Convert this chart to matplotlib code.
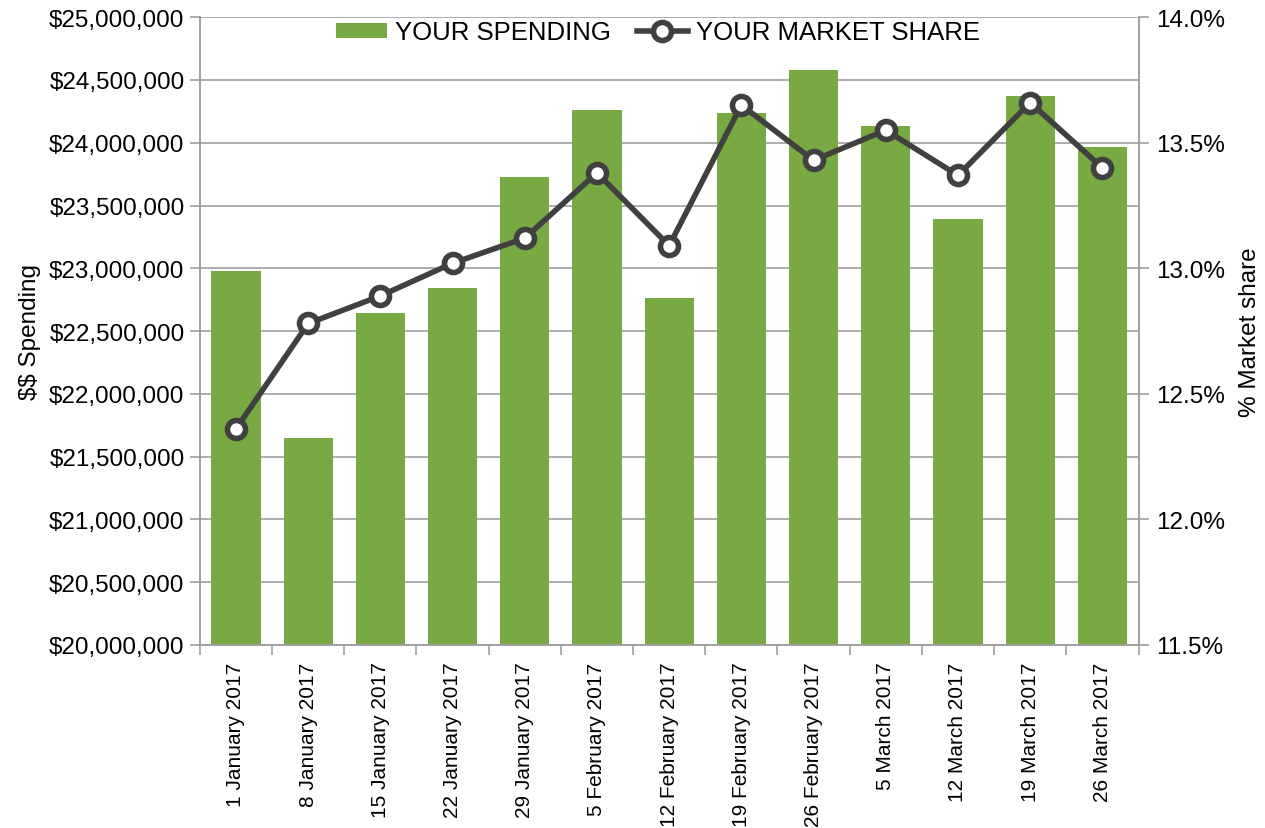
import numpy as np
import matplotlib.pyplot as plt
from matplotlib.ticker import FuncFormatter, FixedLocator

plt.rcParams['font.family'] = ['Liberation Sans', 'DejaVu Sans']
plt.rcParams['text.parse_math'] = False

weeks = ['1 January 2017', '8 January 2017', '15 January 2017', '22 January 2017',
         '29 January 2017', '5 February 2017', '12 February 2017', '19 February 2017',
         '26 February 2017', '5 March 2017', '12 March 2017', '19 March 2017',
         '26 March 2017']
spending = [22980000, 21650000, 22640000, 22840000, 23730000, 24260000, 22760000,
            24240000, 24580000, 24130000, 23390000, 24370000, 23970000]
market_share = [12.36, 12.78, 12.89, 13.02, 13.12, 13.38, 13.09,
                13.65, 13.43, 13.55, 13.37, 13.66, 13.40]

green = '#78a942'
dark = '#404040'
grid_col = '#a0a0a0'

fig = plt.figure(figsize=(12.65, 8.29), dpi=100)
ax = fig.add_axes([0.158, 0.221, 0.742, 0.757])
ax2 = ax.twinx()

x = np.arange(len(weeks))
bars = ax.bar(x, spending, width=0.68, color=green, zorder=2, label='YOUR SPENDING')
ax.set_ylim(20000000, 25000000)
ax.set_yticks(np.arange(20000000, 25000001, 500000))
ax.yaxis.set_major_formatter(FuncFormatter(lambda v, p: '${:,.0f}'.format(v)))
ax.grid(axis='y', color=grid_col, linewidth=1.2, zorder=0)
ax.set_axisbelow(True)
ax.set_xlim(-0.5, len(weeks) - 0.5)
ax.set_xticks(x)
ax.set_xticklabels(weeks, rotation=90)
ax.xaxis.set_minor_locator(FixedLocator(np.arange(-0.5, len(weeks), 1)))
ax.tick_params(axis='x', which='major', length=0, labelsize=15, pad=12)
ax.tick_params(axis='x', which='minor', length=7, color=grid_col, width=1.2)
ax.tick_params(axis='y', labelsize=17.5, length=7, color=grid_col, width=1.2, pad=4)
ax.set_ylabel('$$ Spending', fontsize=17.5, labelpad=6)

line, = ax2.plot(x, market_share, color=dark, linewidth=4, marker='o', markersize=13,
                 markerfacecolor='white', markeredgecolor=dark, markeredgewidth=4,
                 zorder=3, label='YOUR MARKET SHARE')
ax2.set_ylim(11.5, 14.0)
ax2.set_yticks(np.arange(11.5, 14.01, 0.5))
ax2.yaxis.set_major_formatter(FuncFormatter(lambda v, p: '{:.1f}%'.format(v)))
ax2.tick_params(axis='y', labelsize=17.5, length=7, color=grid_col, width=1.2, pad=6)
ax2.set_ylabel('% Market share', fontsize=17.5, labelpad=10)

for a in (ax, ax2):
    a.spines['top'].set_visible(False)
    for s in ('left', 'right', 'bottom'):
        a.spines[s].set_color(grid_col)
        a.spines[s].set_linewidth(1.2)

ax2.legend([bars, line], ['YOUR SPENDING', 'YOUR MARKET SHARE'], loc='center',
           bbox_to_anchor=(0.488, 0.976), ncol=2, frameon=False, fontsize=18.5,
           handlelength=2.0, handleheight=0.5, columnspacing=1.0, handletextpad=0.3,
           borderpad=0)

fig.savefig('out.png', dpi=100)
